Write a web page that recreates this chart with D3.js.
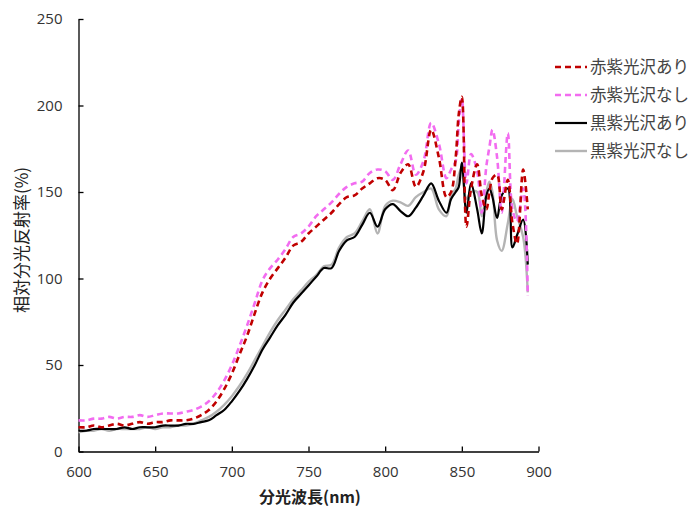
<!DOCTYPE html>
<html><head><meta charset="utf-8">
<script src="https://cdn.jsdelivr.net/npm/d3@7"></script>
<style>
body{margin:0;background:#fff;}
svg{display:block;}
text{font-family:"Noto Sans CJK JP","Noto Sans",sans-serif;}
</style></head>
<body>
<svg id="c" width="699" height="511"></svg>
<script>
const wavelengths = [600,605,610,615,620,625,630,635,640,645,650,655,660,665,670,675,680,685,690,695,700,705,710,715,720,725,730,735,740,745,750,755,760,765,770,775,780,785,790,795,800,805,810,815,820,825,830,835,840,843,846,848,850,853,856,860,863,866,868,870,873,876,880,883,886,890,893];
const redGloss   = [14,14,15,14,15,16,15,16,17,16,17,17,18,18,18,19,21,24,29,36,45,56,67,80,92,100,106,112,119,121,126,130,134,138,143,147,148,152,155,158,157,151,161,166,153,162,186,170,147,150,170,195,205,130,152,166,148,140,150,158,160,140,157,132,120,163,140];
const redMatte   = [18,18,19,19,20,19,20,20,21,20,21,22,22,22,23,24,26,29,34,41,50,61,73,86,99,106,111,117,124,126,130,136,140,144,149,153,155,156,161,163,162,157,166,174,160,168,190,178,158,163,168,190,204,155,172,162,138,165,176,186,170,138,184,140,133,152,90];
const blackGloss = [12,12,13,13,13,13,14,13,14,14,14,15,15,15,16,16,17,18,21,24,29,35,42,50,59,66,73,79,86,91,96,101,106,106,116,122,124,131,138,130,140,143,139,136,141,148,155,145,138,146,150,153,167,138,155,140,126,148,152,147,135,148,152,118,125,134,108];
const blackMatte = [11,12,12,13,12,13,13,13,13,14,13,14,14,15,15,16,18,20,23,27,32,38,45,53,61,69,76,82,88,93,98,102,107,108,118,124,126,133,140,126,142,145,144,142,147,150,152,140,136,148,152,160,164,146,150,150,136,150,156,150,122,116,132,146,136,124,92];
const seriesNames = ["赤紫光沢あり","赤紫光沢なし","黒紫光沢あり","黒紫光沢なし"];
const xTicks = [600,650,700,750,800,850,900];
const yTicks = [0,50,100,150,200,250];

const series = [
  {name:seriesNames[0], values:redGloss, color:"#c00000", dash:"6,4", width:2.6},
  {name:seriesNames[1], values:redMatte, color:"#f26cf0", dash:"6,4", width:2.6},
  {name:seriesNames[2], values:blackGloss, color:"#000000", dash:null, width:2.2},
  {name:seriesNames[3], values:blackMatte, color:"#b4b4b4", dash:null, width:2.4}
];

const svg = d3.select("#c");
const x = d3.scaleLinear().domain([600,900]).range([78.5,538.5]);
const y = d3.scaleLinear().domain([0,250]).range([451.5,19]);

const xAxis = svg.append("g").attr("transform","translate(0,451.5)")
  .call(d3.axisBottom(x).tickValues(xTicks).tickSizeInner(-5).tickSizeOuter(0).tickPadding(15));
const yAxis = svg.append("g").attr("transform","translate(78.5,0)")
  .call(d3.axisLeft(y).tickValues(yTicks).tickSizeInner(-5).tickSizeOuter(0).tickPadding(16));
[xAxis,yAxis].forEach(a=>{
  a.select(".domain").attr("stroke","#000").attr("stroke-width",1.3);
  a.selectAll(".tick line").attr("stroke","#000").attr("stroke-width",1.3);
  a.selectAll(".tick text").attr("fill","#333").style("font-size","15px").style("font-family","'Open Sans','Noto Sans',sans-serif");
});

const line = d3.line().curve(d3.curveCatmullRom.alpha(0.5));
const order = [3,2,1,0];
order.forEach(i=>{
  const s = series[i];
  svg.append("path")
    .attr("d", line(wavelengths.map((w,k)=>[x(w), y(s.values[k])])))
    .attr("fill","none").attr("stroke",s.color).attr("stroke-width",s.width)
    .attr("stroke-dasharray",s.dash).attr("stroke-linejoin","round");
});

// legend
const lg = svg.append("g");
series.forEach((s,i)=>{
  const yy = 67 + i*28;
  lg.append("line").attr("x1",555).attr("x2",587).attr("y1",yy).attr("y2",yy)
    .attr("stroke",s.color).attr("stroke-width",s.width).attr("stroke-dasharray",s.dash);
  lg.append("text").attr("x",590).attr("y",yy+6).text(s.name)
    .attr("fill","#444").style("font-size","16.5px");
});

svg.append("text").attr("x",310).attr("y",503).attr("text-anchor","middle")
  .style("font-size","16px").style("font-weight","bold").attr("fill","#222").text("分光波長(nm)");
svg.append("text").attr("transform","translate(28,240) rotate(-90)").attr("text-anchor","middle")
  .style("font-size","17px").attr("fill","#222").text("相対分光反射率(%)");
</script>
</body></html>
